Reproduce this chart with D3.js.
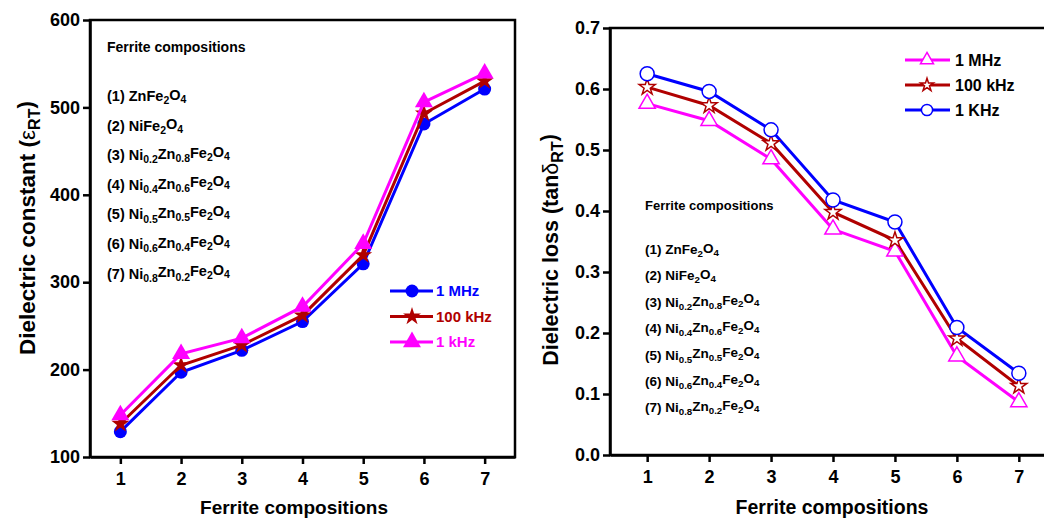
<!DOCTYPE html>
<html>
<head>
<meta charset="utf-8">
<style>
  body { margin: 0; background: #fff; }
  svg { font-family: "Liberation Sans", Arial, sans-serif; }
</style>
</head>
<body>
<svg width="1044" height="522"></svg>
<script src="https://d3js.org/d3.v7.min.js"></script>
<script>

// ---- data ----
var comps = [1, 2, 3, 4, 5, 6, 7];
var compNames = ["ZnFe_{2}O_{4}", "NiFe_{2}O_{4}", "Ni_{0.2}Zn_{0.8}Fe_{2}O_{4}", "Ni_{0.4}Zn_{0.6}Fe_{2}O_{4}",
                 "Ni_{0.5}Zn_{0.5}Fe_{2}O_{4}", "Ni_{0.6}Zn_{0.4}Fe_{2}O_{4}", "Ni_{0.8}Zn_{0.2}Fe_{2}O_{4}"];

// dielectric constant (left)
var eps1MHz   = [129, 197, 222, 255, 321, 481, 521];
var eps100kHz = [138, 205, 228, 262, 331, 493, 530];
var eps1kHz   = [148, 218, 236, 272, 344, 506, 539];

// dielectric loss (right)
var tan1MHz   = [0.576, 0.548, 0.485, 0.370, 0.334, 0.162, 0.087];
var tan100kHz = [0.603, 0.573, 0.511, 0.398, 0.352, 0.191, 0.113];
var tan1KHz   = [0.625, 0.596, 0.533, 0.418, 0.382, 0.209, 0.134];

var epsTicks = [100, 200, 300, 400, 500, 600];
var tanTicks = [0.0, 0.1, 0.2, 0.3, 0.4, 0.5, 0.6, 0.7];

var BLUE = "#0000ff", RED = "#b00000", PINK = "#ff00ff";

var svg = d3.select("svg");

// writes "Ni_{0.2}Zn..." as tspans with subscripts
function chem(textSel, str) {
  var parts = str.split(/(_\{[^}]*\})/);
  var sub = false;
  parts.forEach(function(p) {
    if (!p) return;
    var m = p.match(/^_\{(.*)\}$/);
    if (m) {
      textSel.append("tspan").attr("dy", "0.3em").style("font-size", "0.72em").text(m[1]);
      sub = true;
    } else {
      textSel.append("tspan").attr("dy", sub ? "-0.3em" : null).text(p);
      sub = false;
    }
  });
}

function star(d) { return d3.symbol().type(d3.symbolStar).size(d)(); }
function tri(d) { return d3.symbol().type(d3.symbolTriangle).size(d)(); }

function styleAxis(a) {
  a.select(".domain").attr("stroke-width", 2.5);
  a.selectAll(".tick line").attr("stroke-width", 2.5);
  a.selectAll(".tick text").attr("fill", "#000")
      .style("font-size", "18px").style("font-weight", "bold")
      .style("font-family", "'Liberation Sans', Arial, sans-serif");
}

// ================= LEFT: dielectric constant =================
var L = {left: 90, top: 20, right: 515, bottom: 457};
var xL = d3.scaleLinear().domain([0.5, 7.5]).range([L.left, L.right]);
var yL = d3.scaleLinear().domain([100, 600]).range([L.bottom, L.top]);

var gL = svg.append("g");

gL.append("rect")
    .attr("x", L.left).attr("y", L.top)
    .attr("width", L.right - L.left).attr("height", L.bottom - L.top)
    .attr("fill", "none").attr("stroke", "#000").attr("stroke-width", 2.5);

styleAxis(gL.append("g")
    .attr("transform", "translate(0," + L.bottom + ")")
    .call(d3.axisBottom(xL).tickValues(comps).tickFormat(d3.format("d")).tickSize(7).tickSizeOuter(0).tickPadding(8)));
styleAxis(gL.append("g")
    .attr("transform", "translate(" + L.left + ",0)")
    .call(d3.axisLeft(yL).tickValues(epsTicks).tickSize(7).tickSizeOuter(0).tickPadding(3)));

var lineL = d3.line().x(function(d, i) { return xL(comps[i]); }).y(function(d) { return yL(d); });

var seriesL = [
  {name: "1 MHz",   vals: eps1MHz,   color: BLUE, shape: "circle"},
  {name: "100 kHz", vals: eps100kHz, color: RED,  shape: "star"},
  {name: "1 kHz",   vals: eps1kHz,   color: PINK, shape: "triangle"}
];

function filledMark(sel, shape, color) {
  if (shape === "circle") sel.append("circle").attr("r", 6.5).attr("fill", color);
  else if (shape === "star") sel.append("path").attr("d", star(100)).attr("fill", color);
  else sel.append("path").attr("d", tri(140)).attr("fill", color);
}

seriesL.forEach(function(s) {
  gL.append("path").attr("d", lineL(s.vals))
      .attr("fill", "none").attr("stroke", s.color).attr("stroke-width", 3);
  s.vals.forEach(function(v, i) {
    var m = gL.append("g").attr("transform", "translate(" + xL(comps[i]) + "," + yL(v) + ")");
    filledMark(m, s.shape, s.color);
  });
});

// legend left
seriesL.forEach(function(s, i) {
  var ly = 291 + i * 25.5;
  var lg = gL.append("g");
  lg.append("line").attr("x1", 390).attr("x2", 433).attr("y1", ly).attr("y2", ly)
      .attr("stroke", s.color).attr("stroke-width", 3);
  var m = lg.append("g").attr("transform", "translate(412," + ly + ")");
  filledMark(m, s.shape, s.color);
  lg.append("text").attr("x", 436).attr("y", ly).attr("dy", "0.36em")
      .attr("fill", s.color).style("font-size", "15px").style("font-weight", "bold").text(s.name);
});

// composition list left
gL.append("text").attr("x", 107).attr("y", 52)
    .style("font-size", "14px").style("font-weight", "bold").text("Ferrite compositions");
compNames.forEach(function(c, i) {
  var t = gL.append("text").attr("x", 107).attr("y", 101 + i * 29.6)
      .style("font-size", "14.5px").style("font-weight", "bold");
  t.append("tspan").text("(" + comps[i] + ") ");
  chem(t, c);
});

// axis titles left
var tyL = gL.append("text")
    .attr("transform", "translate(35,228) rotate(-90)")
    .attr("text-anchor", "middle")
    .style("font-size", "22.5px").style("font-weight", "bold");
tyL.append("tspan").text("Dielectric constant (");
tyL.append("tspan").style("font-weight", "normal").text("ε");
tyL.append("tspan").attr("dy", "0.3em").style("font-size", "16px").text("RT");
tyL.append("tspan").attr("dy", "-0.3em").text(")");

gL.append("text").attr("x", 294).attr("y", 514)
    .attr("text-anchor", "middle").style("font-size", "19px").style("font-weight", "bold")
    .text("Ferrite compositions");

// ================= RIGHT: dielectric loss =================
var R = {left: 610, top: 28, right: 1056, bottom: 455};
var xR = d3.scaleLinear().domain([0.4, 7.6]).range([R.left, R.right]);
var yR = d3.scaleLinear().domain([0, 0.7]).range([R.bottom, R.top]);

var gR = svg.append("g");

gR.append("rect")
    .attr("x", R.left).attr("y", R.top)
    .attr("width", R.right - R.left).attr("height", R.bottom - R.top)
    .attr("fill", "none").attr("stroke", "#000").attr("stroke-width", 2.5);

styleAxis(gR.append("g")
    .attr("transform", "translate(0," + R.bottom + ")")
    .call(d3.axisBottom(xR).tickValues(comps).tickFormat(d3.format("d")).tickSize(7).tickSizeOuter(0).tickPadding(8)));
styleAxis(gR.append("g")
    .attr("transform", "translate(" + R.left + ",0)")
    .call(d3.axisLeft(yR).tickValues(tanTicks).tickFormat(d3.format(".1f")).tickSize(7).tickSizeOuter(0).tickPadding(3)));

var lineR = d3.line().x(function(d, i) { return xR(comps[i]); }).y(function(d) { return yR(d); });

var seriesR = [
  {name: "1 MHz",   vals: tan1MHz,   color: PINK, shape: "triangle"},
  {name: "100 kHz", vals: tan100kHz, color: RED,  shape: "star"},
  {name: "1 KHz",   vals: tan1KHz,   color: BLUE, shape: "circle"}
];

function openMark(sel, shape, color, k) {
  k = k || 1;
  if (shape === "circle") sel.append("circle").attr("r", 7 * k);
  else if (shape === "star") sel.append("path").attr("d", star(80 * k * k));
  else sel.append("path").attr("d", tri(115 * k * k));
  sel.selectAll("*").attr("fill", "#fff").attr("stroke", color).attr("stroke-width", 1.5);
}

[seriesR[2], seriesR[1], seriesR[0]].forEach(function(s) {
  gR.append("path").attr("d", lineR(s.vals))
      .attr("fill", "none").attr("stroke", s.color).attr("stroke-width", 3);
});
seriesR.forEach(function(s) {
  s.vals.forEach(function(v, i) {
    var m = gR.append("g").attr("transform", "translate(" + xR(comps[i]) + "," + yR(v) + ")");
    openMark(m, s.shape, s.color);
  });
});

// legend right
seriesR.forEach(function(s, i) {
  var ly = 60 + i * 25;
  var lg = gR.append("g");
  lg.append("line").attr("x1", 905).attr("x2", 950).attr("y1", ly).attr("y2", ly)
      .attr("stroke", s.color).attr("stroke-width", 3);
  var m = lg.append("g").attr("transform", "translate(927," + ly + ")");
  openMark(m, s.shape, s.color, 0.8);
  lg.append("text").attr("x", 955).attr("y", ly).attr("dy", "0.36em")
      .attr("fill", "#000").style("font-size", "16px").style("font-weight", "bold").text(s.name);
});

// composition list right
gR.append("text").attr("x", 645).attr("y", 210)
    .style("font-size", "13px").style("font-weight", "bold").text("Ferrite compositions");
compNames.forEach(function(c, i) {
  var t = gR.append("text").attr("x", 645).attr("y", 254 + i * 26.4)
      .style("font-size", "13.5px").style("font-weight", "bold");
  t.append("tspan").text("(" + comps[i] + ") ");
  chem(t, c);
});

// axis titles right
var tyR = gR.append("text")
    .attr("transform", "translate(558,250) rotate(-90)")
    .attr("text-anchor", "middle")
    .style("font-size", "21.5px").style("font-weight", "bold");
tyR.append("tspan").text("Dielectric loss (tan");
tyR.append("tspan").style("font-weight", "normal").text("δ");
tyR.append("tspan").attr("dy", "0.3em").style("font-size", "16px").text("RT");
tyR.append("tspan").attr("dy", "-0.3em").text(")");

gR.append("text").attr("x", 832).attr("y", 514)
    .attr("text-anchor", "middle").style("font-size", "19.5px").style("font-weight", "bold")
    .text("Ferrite compositions");

</script>
</body>
</html>
